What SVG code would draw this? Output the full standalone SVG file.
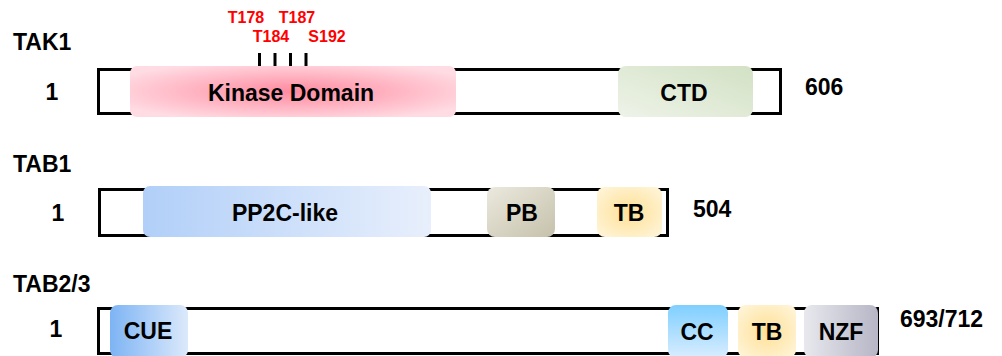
<svg xmlns="http://www.w3.org/2000/svg" width="1002" height="356" viewBox="0 0 1002 356">
<style>
.lbl{font-family:"Liberation Sans",Arial,sans-serif;font-weight:bold;font-size:23px;fill:#000}
.site{font-family:"Liberation Sans",Arial,sans-serif;font-weight:bold;font-size:16px;fill:#ff0000;text-anchor:middle}
.mid{text-anchor:middle}
.chain{fill:#fff;stroke:#000;stroke-width:3}
.tick{stroke:#000;stroke-width:3}
</style>
<defs>
<radialGradient id="gKin" cx="0.5" cy="0.5" r="0.6" fx="0.5" fy="0.5">
<stop offset="0" stop-color="#ff8aa0"/>
<stop offset="1" stop-color="#ffdce3"/>
</radialGradient>
<linearGradient id="gCTD" x1="0" y1="1" x2="1" y2="0">
<stop offset="0" stop-color="#eef3e8"/>
<stop offset="1" stop-color="#d2e1c4"/>
</linearGradient>
<linearGradient id="gPP2C" x1="0" y1="0" x2="1" y2="0">
<stop offset="0" stop-color="#b1cff8"/>
<stop offset="1" stop-color="#e8effc"/>
</linearGradient>
<linearGradient id="gPB" x1="0" y1="0" x2="1" y2="1">
<stop offset="0" stop-color="#ebe9de"/>
<stop offset="1" stop-color="#c5c1ab"/>
</linearGradient>
<radialGradient id="gTB" cx="0.5" cy="0.5" r="0.6">
<stop offset="0" stop-color="#ffe096"/>
<stop offset="1" stop-color="#fff3d3"/>
</radialGradient>
<linearGradient id="gCUE" x1="0" y1="0" x2="1" y2="0">
<stop offset="0" stop-color="#7db4f4"/>
<stop offset="1" stop-color="#dce9fb"/>
</linearGradient>
<linearGradient id="gCC" x1="0" y1="0" x2="0" y2="1">
<stop offset="0" stop-color="#7fcfff"/>
<stop offset="1" stop-color="#d9edff"/>
</linearGradient>
<linearGradient id="gNZF" x1="0" y1="0" x2="1" y2="0">
<stop offset="0" stop-color="#e8e8ee"/>
<stop offset="1" stop-color="#b6b6c6"/>
</linearGradient>
</defs>

<g id="TAK1">
<text class="lbl" x="13" y="50">TAK1</text>
<text class="lbl mid" x="52" y="100">1</text>
<rect class="chain" x="98.5" y="69.5" width="682" height="44"/>
<g id="sites">
<line class="tick" x1="259.5" y1="53" x2="259.5" y2="69"/>
<line class="tick" x1="275" y1="53" x2="275" y2="69"/>
<line class="tick" x1="290.5" y1="53" x2="290.5" y2="69"/>
<line class="tick" x1="306" y1="53" x2="306" y2="69"/>
<text class="site" x="246" y="23">T178</text>
<text class="site" x="297" y="23">T187</text>
<text class="site" x="271" y="42">T184</text>
<text class="site" x="327" y="42">S192</text>
</g>
<g id="KinaseDomain">
<rect x="130" y="66" width="326" height="51" rx="7" fill="url(#gKin)"/>
<text class="lbl mid" x="291" y="101">Kinase Domain</text>
</g>
<g id="CTD">
<rect x="618" y="66" width="135" height="51" rx="8" fill="url(#gCTD)"/>
<text class="lbl mid" x="684" y="101">CTD</text>
</g>
<text class="lbl" x="805" y="95">606</text>
</g>

<g id="TAB1">
<text class="lbl" x="13" y="172">TAB1</text>
<text class="lbl mid" x="58" y="221">1</text>
<rect class="chain" x="99.5" y="189.5" width="568" height="46"/>
<g id="PP2C">
<rect x="143" y="186" width="288" height="51" rx="7" fill="url(#gPP2C)"/>
<text class="lbl mid" x="285" y="221">PP2C-like</text>
</g>
<g id="PB">
<rect x="487" y="187" width="68" height="50" rx="8" fill="url(#gPB)"/>
<text class="lbl mid" x="522" y="221">PB</text>
</g>
<g id="TB1">
<rect x="597" y="187" width="65" height="50" rx="8" fill="url(#gTB)"/>
<text class="lbl mid" x="629" y="221">TB</text>
</g>
<text class="lbl" x="693" y="217">504</text>
</g>

<g id="TAB23">
<text class="lbl" x="13" y="292">TAB2/3</text>
<text class="lbl mid" x="56" y="337">1</text>
<rect class="chain" x="98.5" y="308.5" width="779" height="45"/>
<g id="CUE">
<rect x="110" y="305" width="78" height="53" rx="8" fill="url(#gCUE)"/>
<text class="lbl mid" x="148" y="339">CUE</text>
</g>
<g id="CC">
<rect x="668" y="305" width="60" height="53" rx="8" fill="url(#gCC)"/>
<text class="lbl mid" x="697" y="340">CC</text>
</g>
<g id="TB2">
<rect x="738" y="305" width="58" height="53" rx="8" fill="url(#gTB)"/>
<text class="lbl mid" x="767" y="340">TB</text>
</g>
<g id="NZF">
<rect x="804" y="305" width="74" height="53" rx="8" fill="url(#gNZF)"/>
<text class="lbl mid" x="841" y="340">NZF</text>
</g>
<text class="lbl" x="900" y="327">693/712</text>
</g>

<g id="connectors"/>
</svg>
